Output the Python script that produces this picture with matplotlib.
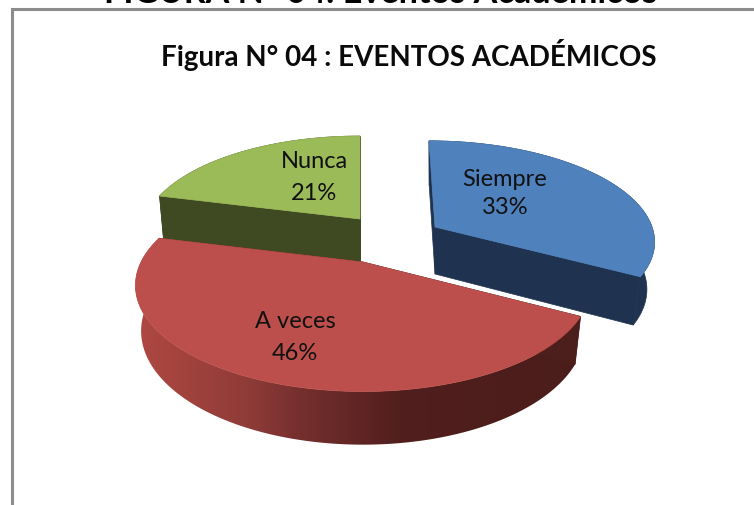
import numpy as np
import matplotlib
matplotlib.use("Agg")
import matplotlib.pyplot as plt
from matplotlib.patches import Polygon
from matplotlib.colors import to_rgb

# ---- data ----
categories = ["Siempre", "A veces", "Nunca"]
percent = [33, 46, 21]
title = "Figura N° 04 : EVENTOS ACADÉMICOS"
cut_heading = "FIGURA N° 04: Eventos Académicos"

# ---- style: one projected disc per slice (apex px, radius, vertical scale, perspective, skew, depth, bottom shrink) ----
geom = {
    "Siempre": dict(cx=435, cy=227, R=217, a=97, p=0.126, skew=6, depth=47, k=0.965),
    "A veces": dict(cx=363, cy=262, R=222, a=101, p=0.22, skew=0, depth=44, k=0.975),
    "Nunca": dict(cx=360, cy=219, R=215, a=96, p=0.157, skew=0, depth=45, k=0.98),
}
top_col = {"Siempre": "#4F81BD", "A veces": "#BC4F4B", "Nunca": "#9BBB59"}
cut_col = {"Siempre": "#1F3350", "A veces": "#4C1E1C", "Nunca": "#404A22"}
label_pos = {"Siempre": (505, 179, 208), "A veces": (295, 321, 353), "Nunca": (314, 162, 194)}
red_stops_x = [135, 165, 250, 300, 400, 590]
red_stops_c = ["#AE4843", "#A8453F", "#8E3B38", "#752F2E", "#511F1D", "#4A1D1B"]

fig = plt.figure(figsize=(7.54, 5.05), dpi=100)
ax = fig.add_axes([0, 0, 1, 1])
ax.set_xlim(0, 754)
ax.set_ylim(505, 0)
ax.axis("off")


def project(g, theta, r=1.0, z=0.0):
    u, v = r * np.sin(theta), r * np.cos(theta)
    s = 1 / (1 + g["p"] * v)
    shrink = 1 - (1 - g["k"]) * z
    x = g["cx"] + (g["R"] * u * s - g["skew"] * v) * shrink
    y = g["cy"] + (-g["a"] * v * s) * shrink + g["depth"] * z * s
    return x, y


# slice angles follow the values, clockwise from twelve o'clock
fractions = np.array(percent) / sum(percent)
edges = np.concatenate([[0], np.cumsum(fractions)]) * 2 * np.pi
spans = {c: (edges[i], edges[i + 1]) for i, c in enumerate(categories)}


def draw_slice(name, zo):
    g = geom[name]
    t0, t1 = spans[name]
    th = np.linspace(t0, t1, 200)
    x0, y0 = project(g, th)
    x1, y1 = project(g, th, z=1)
    band = np.column_stack([np.r_[x0, x1[::-1]], np.r_[y0, y1[::-1]]])
    # rim
    if name == "A veces":
        xs = np.linspace(red_stops_x[0], red_stops_x[-1], 456)
        rgb = np.array([to_rgb(c) for c in red_stops_c])
        grad = np.stack([np.interp(xs, red_stops_x, rgb[:, i]) for i in range(3)], axis=1)[None, :, :]
        clip = Polygon(band, closed=True, transform=ax.transData, fc="none", ec="none")
        ax.add_patch(clip)
        im = ax.imshow(grad, extent=(xs[0], xs[-1], 505, 0), aspect="auto", zorder=zo, interpolation="bilinear")
        im.set_clip_path(clip)
    else:
        ax.add_patch(Polygon(band, closed=True, fc=cut_col[name], ec=cut_col[name], lw=0.5, zorder=zo))
    # cut faces
    ax_, ay_ = project(g, 0.0, r=0.0)
    bx_, by_ = project(g, 0.0, r=0.0, z=1)
    for j in (0, -1):
        ax.add_patch(Polygon([(ax_, ay_), (x0[j], y0[j]), (x1[j], y1[j]), (bx_, by_)],
                             closed=True, fc=cut_col[name], ec=cut_col[name], lw=0.5, zorder=zo + 0.1))
    # top surface
    pts = [(ax_, ay_)] + list(zip(x0, y0))
    ax.add_patch(Polygon(pts, closed=True, fc=top_col[name], ec=top_col[name], lw=0.5, zorder=zo + 0.2))


draw_slice("Nunca", 2)
draw_slice("Siempre", 3)
draw_slice("A veces", 4)
ax.set_xlim(0, 754)
ax.set_ylim(505, 0)

# labels
for name, val in zip(categories, percent):
    lx, y1, y2 = label_pos[name]
    ax.text(lx, y1, name, ha="center", va="center", family="Lato", fontsize=17, color="#111111", zorder=6)
    ax.text(lx, y2, f"{val}%", ha="center", va="center", family="Lato", fontsize=17, color="#111111", zorder=6)

# frame of the pasted chart
ax.plot([11.5, 11.5, 760], [510, 9, 9], color="#8C8C8C", lw=2.2, solid_joinstyle="miter", zorder=1, clip_on=True)

# titles
ax.text(409, 55, title, ha="center", va="center", family="Lato", fontweight="bold", fontsize=20, color="#0A0A0A", zorder=6)
ax.text(381, 3, cut_heading, ha="center", va="baseline", family="Lato", fontweight="bold", fontsize=24.6, color="#000000", zorder=6)

fig.savefig("out.png", dpi=100, facecolor="white")
